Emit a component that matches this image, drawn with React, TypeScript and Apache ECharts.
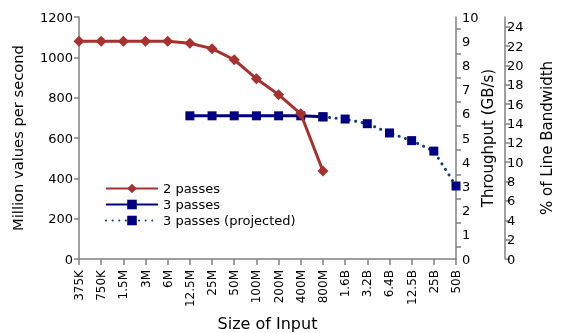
import React, { useEffect, useRef } from "react";
import * as echarts from "echarts";

const categories = ["375K", "750K", "1.5M", "3M", "6M", "12.5M", "25M", "50M", "100M", "200M", "400M", "800M", "1.6B", "3.2B", "6.4B", "12.5B", "25B", "50B"];
const twoPasses = [1080, 1080, 1080, 1080, 1080, 1070, 1043, 988, 894, 815, 720, 436, null, null, null, null, null, null];
const threePasses = [null, null, null, null, null, 710, 710, 710, 710, 710, 710, 705, null, null, null, null, null, null];
const threePassesProjected = [null, null, null, null, null, null, null, null, null, null, null, 705, 694, 671, 625, 587, 535, 362];

const FONT = "DejaVu Sans";
const AXIS = "#808080";

export default function App() {
  const ref = useRef<HTMLDivElement>(null);
  useEffect(() => {
    if (!ref.current) return;
    const chart = echarts.init(ref.current, null, { renderer: "svg" });
    chart.setOption({
      animation: false,
      textStyle: { fontFamily: FONT, color: "#000" },
      grid: { left: 79, right: 105, top: 17, bottom: 74, containLabel: false, outerBoundsMode: "none" },
      legend: {
        orient: "vertical",
        left: 100,
        top: 177,
        itemWidth: 52,
        itemHeight: 12,
        itemGap: 3,
        textStyle: { fontFamily: FONT, fontSize: 13, color: "#000" },
        data: ["2 passes", "3 passes", "3 passes (projected)"],
      },
      xAxis: {
        type: "category",
        data: categories,
        boundaryGap: false,
        name: "Size of Input",
        nameLocation: "middle",
        nameGap: 56,
        nameTextStyle: { fontFamily: FONT, fontSize: 16, color: "#000" },
        axisLine: { lineStyle: { color: AXIS, width: 1.5 } },
        axisTick: { show: true, length: 6, lineStyle: { color: AXIS, width: 1.5 } },
        axisLabel: { rotate: 90, fontSize: 12, margin: 11, color: "#000", fontFamily: FONT, interval: 0 },
        splitLine: { show: false },
      },
      yAxis: [
        {
          type: "value",
          min: 0,
          max: 1200,
          interval: 200,
          name: "Million values per second",
          nameLocation: "middle",
          nameRotate: 90,
          nameGap: 54,
          nameTextStyle: { fontFamily: FONT, fontSize: 14.7, color: "#000" },
          axisLine: { show: true, lineStyle: { color: AXIS, width: 1.5 } },
          axisTick: { show: true, length: 5, lineStyle: { color: AXIS, width: 1.5 } },
          axisLabel: { fontSize: 13, margin: 6, color: "#000", fontFamily: FONT, formatter: (v: number) => String(v) },
          splitLine: { show: false },
        },
        {
          type: "value",
          position: "right",
          min: 0,
          max: 10,
          interval: 1,
          name: "Throughput (GB/s)",
          nameLocation: "middle",
          nameRotate: 90,
          nameGap: 24,
          nameMoveOverlap: false,
          nameTextStyle: { fontFamily: FONT, fontSize: 15, color: "#000" },
          axisLine: { show: true, lineStyle: { color: AXIS, width: 1.5 } },
          axisTick: { show: false },
          minorTick: { show: true, splitNumber: 2, length: 5, lineStyle: { color: AXIS, width: 1.5 } },
          axisLabel: { fontSize: 13, margin: 6, color: "#000", fontFamily: FONT },
          splitLine: { show: false },
          minorSplitLine: { show: false },
        },
        {
          type: "value",
          position: "right",
          offset: 49,
          min: 0,
          max: 25,
          interval: 2,
          name: "% of Line Bandwidth",
          nameLocation: "middle",
          nameRotate: 90,
          nameGap: 34,
          nameTextStyle: { fontFamily: FONT, fontSize: 15, color: "#000" },
          axisLine: { show: true, lineStyle: { color: AXIS, width: 1.5 } },
          axisTick: { show: true, length: 5, lineStyle: { color: AXIS, width: 1.5 } },
          axisLabel: { fontSize: 13, margin: 2, color: "#000", fontFamily: FONT },
          splitLine: { show: false },
        },
      ],
      series: [
        {
          name: "2 passes",
          type: "line",
          data: twoPasses,
          yAxisIndex: 0,
          symbol: "diamond",
          symbolSize: 11,
          showAllSymbol: true,
          lineStyle: { color: "#a8302e", width: 3 },
          itemStyle: { color: "#a8302e" },
          z: 3,
        },
        {
          name: "3 passes",
          type: "line",
          data: threePasses,
          yAxisIndex: 0,
          symbol: "rect",
          symbolSize: 9,
          showAllSymbol: true,
          lineStyle: { color: "#000080", width: 3 },
          itemStyle: { color: "#000080" },
          z: 2,
        },
        {
          name: "3 passes (projected)",
          type: "line",
          data: threePassesProjected,
          yAxisIndex: 0,
          symbol: "rect",
          symbolSize: 9,
          showAllSymbol: true,
          lineStyle: { color: "#0d3f78", width: 3, type: [0.1, 6.5], cap: "round" },
          itemStyle: { color: "#000080" },
          z: 2,
        },
      ],
    });
    return () => chart.dispose();
  }, []);
  return <div ref={ref} style={{ position: "fixed", left: 0, top: 0, width: 561, height: 333 }} />;
}
